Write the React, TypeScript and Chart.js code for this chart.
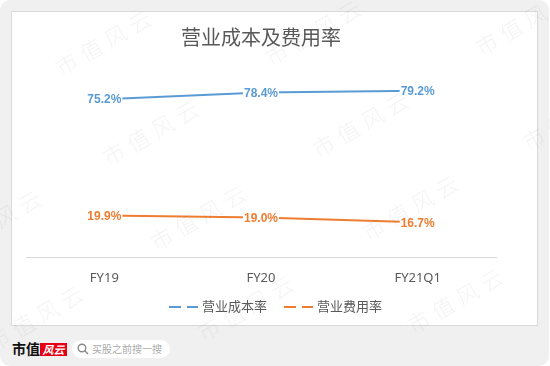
import React, { useEffect, useRef } from 'react';
import { Chart, registerables } from 'chart.js';

Chart.register(...registerables);

const title = '营业成本及费用率';
const categories = ['FY19', 'FY20', 'FY21Q1'];
const seriesNames = ['营业成本率', '营业费用率'];
const costRate = [75.2, 78.4, 79.2];
const expenseRate = [19.9, 19.0, 16.7];
const seriesColors = ['#5b9bd5', '#ed7d31'];

const FONT = "'Noto Sans', 'Noto Sans CJK SC', sans-serif";

const dataLabelPlugin = {
  id: 'dataLabels',
  afterDatasetsDraw(chart: any) {
    const ctx = chart.ctx;
    ctx.save();
    ctx.font = `bold 12px 'Liberation Sans', ${FONT}`;
    ctx.textAlign = 'center';
    ctx.textBaseline = 'middle';
    chart.data.datasets.forEach((ds: any, di: number) => {
      const meta = chart.getDatasetMeta(di);
      meta.data.forEach((pt: any, i: number) => {
        const text = ds.data[i].toFixed(1) + '%';
        const w = ctx.measureText(text).width;
        ctx.fillStyle = '#ffffff';
        ctx.fillRect(pt.x - w / 2 - 1, pt.y - 6, w + 2, 12);
        ctx.fillStyle = ds.borderColor;
        ctx.fillText(text, pt.x, pt.y + 1);
      });
    });
    ctx.restore();
  },
};

const legendPlugin = {
  id: 'dashLegend',
  afterDraw(chart: any) {
    const ctx = chart.ctx;
    ctx.save();
    ctx.font = `13px ${FONT}`;
    ctx.textBaseline = 'middle';
    const marker = 29;
    const gap = 4;
    const spacing = 17;
    const items = chart.data.datasets.map((ds: any) => ({
      text: ds.label,
      color: ds.borderColor,
      w: marker + gap + ctx.measureText(ds.label).width,
    }));
    const total = items.reduce((s: number, it: any) => s + it.w, 0) + spacing * (items.length - 1);
    let x = 264.5 - total / 2;
    const y = 296;
    items.forEach((it: any) => {
      ctx.strokeStyle = it.color;
      ctx.lineWidth = 2;
      ctx.setLineDash([12, 6]);
      ctx.beginPath();
      ctx.moveTo(x, y);
      ctx.lineTo(x + marker, y);
      ctx.stroke();
      ctx.setLineDash([]);
      ctx.fillStyle = '#595959';
      ctx.textAlign = 'left';
      ctx.fillText(it.text, x + marker + gap, y);
      x += it.w + spacing;
    });
    ctx.restore();
  },
};

const watermarks: [number, number][] = [
  [105, 40], [315, 30], [525, 20],
  [-58, 135], [152, 130], [362, 122], [572, 115],
  [-5, 220], [200, 215], [412, 205],
  [37, 315], [247, 305], [457, 298],
];

export default function App() {
  const ref = useRef<HTMLCanvasElement | null>(null);

  useEffect(() => {
    if (!ref.current) return;
    const chart = new Chart(ref.current, {
      type: 'line',
      data: {
        labels: categories,
        datasets: [
          {
            label: seriesNames[0],
            data: costRate,
            borderColor: seriesColors[0],
            backgroundColor: seriesColors[0],
            borderWidth: 2,
            pointRadius: 0,
            tension: 0,
          },
          {
            label: seriesNames[1],
            data: expenseRate,
            borderColor: seriesColors[1],
            backgroundColor: seriesColors[1],
            borderWidth: 2,
            pointRadius: 0,
            tension: 0,
          },
        ],
      },
      options: {
        animation: false,
        responsive: false,
        devicePixelRatio: 1,
        layout: { padding: { left: 15, right: 42, top: 0, bottom: 27 } },
        plugins: {
          legend: { display: false },
          tooltip: { enabled: false },
          title: {
            display: true,
            text: title,
            color: '#595959',
            font: { family: FONT, size: 20, weight: 'normal' },
            padding: { top: 16, bottom: 17 },
          },
        },
        scales: {
          x: {
            offset: true,
            grid: { display: false, drawTicks: false },
            border: { display: true, color: '#d9d9d9', width: 1 },
            ticks: { color: '#595959', font: { family: FONT, size: 13 }, padding: 13 },
          },
          y: { display: false, min: 0, max: 90 },
        },
      },
      plugins: [dataLabelPlugin, legendPlugin],
    });
    return () => chart.destroy();
  }, []);

  return (
    <div style={{ position: 'absolute', left: 0, top: 0, width: 550, height: 366, background: '#fff', overflow: 'hidden', fontFamily: FONT }}>
      <div style={{ position: 'absolute', left: 0, top: 0, width: 549, height: 366, borderRadius: 10, background: '#f0f0f0' }} />
      <div style={{ position: 'absolute', left: 11, top: 11, width: 527, height: 315, boxSizing: 'border-box', border: '1px solid #d9d9d9', background: '#fff' }} />
      <canvas ref={ref} width={527} height={315} style={{ position: 'absolute', left: 11, top: 11, width: 527, height: 315 }} />
      <div style={{ position: 'absolute', left: 12, top: 339, fontSize: 14, fontWeight: 'bold', color: '#111', fontFamily: "'Noto Sans CJK SC', serif", lineHeight: '18px' }}>市值</div>
      <div style={{ position: 'absolute', left: 40, top: 343, width: 27, height: 13, background: '#e60012', color: '#fff', fontSize: 11, fontStyle: 'italic', fontWeight: 'bold', lineHeight: '13px', textAlign: 'center', fontFamily: "'Noto Sans CJK SC', sans-serif" }}>风云</div>
      <div style={{ position: 'absolute', left: 72, top: 340, width: 98, height: 18, borderRadius: 9, background: '#fff' }}>
        <svg width="12" height="12" viewBox="0 0 12 12" style={{ position: 'absolute', left: 5, top: 3 }}>
          <circle cx="5" cy="5" r="3.8" stroke="#888" strokeWidth="1.4" fill="none" />
          <line x1="7.8" y1="7.8" x2="11" y2="11" stroke="#888" strokeWidth="1.4" />
        </svg>
        <div style={{ position: 'absolute', left: 20, top: 2, fontSize: 10, color: '#aaa', lineHeight: '14px', whiteSpace: 'nowrap' }}>买股之前搜一搜</div>
      </div>
      {watermarks.map(([cx, cy], i) => (
        <div key={i} style={{ position: 'absolute', left: cx, top: cy, transform: 'translate(-50%, -50%) rotate(-30deg)', fontSize: 22, letterSpacing: 6, color: 'rgba(0,0,0,0.05)', whiteSpace: 'nowrap', pointerEvents: 'none', fontWeight: 300 }}>市值风云</div>
      ))}
    </div>
  );
}
